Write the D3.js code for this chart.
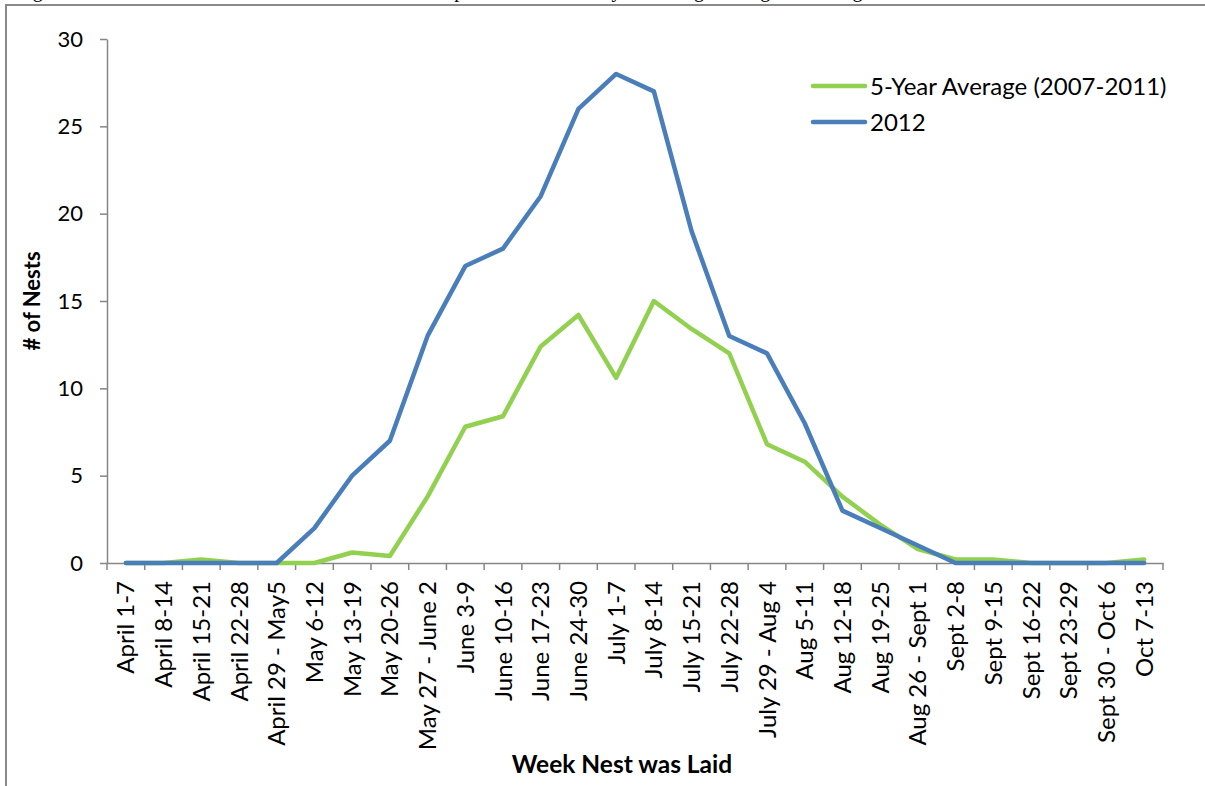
<!DOCTYPE html>
<html>
<head>
<meta charset="utf-8">
<script src="https://cdn.jsdelivr.net/npm/d3@7"></script>
<style>
  html, body { margin: 0; padding: 0; background: #fff; }
  svg { display: block; }
</style>
</head>
<body>
<svg id="chart" width="1205" height="786"></svg>
<script>
// Weekly nest counts, 2012 season against the 2007-2011 average
const weeks = [
  "April 1-7", "April 8-14", "April 15-21", "April 22-28", "April 29 - May5",
  "May 6-12", "May 13-19", "May 20-26", "May 27 - June 2", "June 3-9",
  "June 10-16", "June 17-23", "June 24-30", "July 1-7", "July 8-14",
  "July 15-21", "July 22-28", "July 29 - Aug 4", "Aug 5-11", "Aug 12-18",
  "Aug 19-25", "Aug 26 - Sept 1", "Sept 2-8", "Sept 9-15", "Sept 16-22",
  "Sept 23-29", "Sept 30 - Oct 6", "Oct 7-13"
];
const avg2007_2011 = [
  0, 0, 0.2, 0, 0, 0, 0.6, 0.4, 3.8, 7.8,
  8.4, 12.4, 14.2, 10.6, 15, 13.4, 12, 6.8, 5.8, 3.8,
  2.2, 0.8, 0.2, 0.2, 0, 0, 0, 0.2
];
const nests2012 = [
  0, 0, 0, 0, 0, 2, 5, 7, 13, 17,
  18, 21, 26, 28, 27, 19, 13, 12, 8, 3,
  2, 1, 0, 0, 0, 0, 0, 0
];
const yTicks = [0, 5, 10, 15, 20, 25, 30];
const seriesNames = ["5-Year Average (2007-2011)", "2012"];
const seriesColors = ["#92d050", "#4a7ebb"];

const svg = d3.select("#chart");
const FONT = "Lato, 'Open Sans', sans-serif";
const AXIS = "#868686";

// Frame around the figure and the caption running off the top edge
svg.append("rect").attr("width", 1205).attr("height", 786).attr("fill", "#fff");
svg.append("text")
  .attr("x", 16).attr("y", -3)
  .attr("font-family", "'Liberation Serif', serif")
  .attr("font-size", 20)
  .text("Figure 5. Number of nests laid each week in 2012 compared with the five-year average during the nesting season");
svg.append("path")
  .attr("d", "M6,786 V5 H1205")
  .attr("fill", "none").attr("stroke", "#8a8a8a").attr("stroke-width", 2);

const x = d3.scaleBand().domain(weeks).range([107, 1163]).padding(0);
const y = d3.scaleLinear().domain([0, 30]).range([563, 39]);
const cx = d => x(d) + x.bandwidth() / 2;

// Y axis
const yAxis = svg.append("g").attr("transform", "translate(107,0)")
  .call(d3.axisLeft(y).tickValues(yTicks).tickSize(7).tickPadding(17).tickSizeOuter(0));
yAxis.select(".domain").attr("stroke", AXIS).attr("stroke-width", 1.5);
yAxis.selectAll(".tick line").attr("stroke", AXIS).attr("stroke-width", 1.5);
yAxis.selectAll(".tick text")
  .attr("font-family", FONT).attr("font-size", 22).attr("fill", "#000");

// X axis: labels at week centres, tick marks on week boundaries
const xAxis = svg.append("g").attr("transform", "translate(0,563)")
  .call(d3.axisBottom(x).tickSize(0).tickPadding(0).tickSizeOuter(0));
xAxis.select(".domain").attr("stroke", AXIS).attr("stroke-width", 1.5);
xAxis.selectAll(".tick text")
  .attr("font-family", FONT).attr("font-size", 24).attr("fill", "#000")
  .attr("transform", "rotate(-90)")
  .attr("x", -18).attr("y", 0).attr("dy", "0.36em")
  .style("text-anchor", "end");
const edges = weeks.map(w => x(w)).concat([x.range()[1]]);
xAxis.selectAll("line.edge").data(edges).join("line")
  .attr("class", "edge")
  .attr("x1", d => d).attr("x2", d => d)
  .attr("y1", 0).attr("y2", 7)
  .attr("stroke", AXIS).attr("stroke-width", 1.5);

// Axis titles
svg.append("text")
  .attr("transform", "translate(40,301) rotate(-90)")
  .attr("text-anchor", "middle")
  .attr("font-family", FONT).attr("font-weight", "bold").attr("font-size", 22)
  .text("# of Nests");
svg.append("text")
  .attr("x", 622).attr("y", 773)
  .attr("text-anchor", "middle")
  .attr("font-family", FONT).attr("font-weight", "bold").attr("font-size", 24.5)
  .text("Week Nest was Laid");

// Series lines (2012 drawn last so it sits on top)
const line = d3.line().x((d, i) => cx(weeks[i])).y(d => y(d));
[avg2007_2011, nests2012].forEach((vals, k) => {
  svg.append("path")
    .datum(vals)
    .attr("d", line)
    .attr("fill", "none")
    .attr("stroke", seriesColors[k])
    .attr("stroke-width", 4.5)
    .attr("stroke-linejoin", "round")
    .attr("stroke-linecap", "round");
});

// Legend
const legend = svg.append("g");
seriesNames.forEach((name, k) => {
  const ly = 86 + k * 36;
  legend.append("line")
    .attr("x1", 813).attr("x2", 865).attr("y1", ly).attr("y2", ly)
    .attr("stroke", seriesColors[k]).attr("stroke-width", 4.5)
    .attr("stroke-linecap", "round");
  legend.append("text")
    .attr("x", 870).attr("y", ly).attr("dy", "0.36em")
    .attr("font-family", FONT).attr("font-size", 24).attr("fill", "#000")
    .text(name);
});
</script>
</body>
</html>
